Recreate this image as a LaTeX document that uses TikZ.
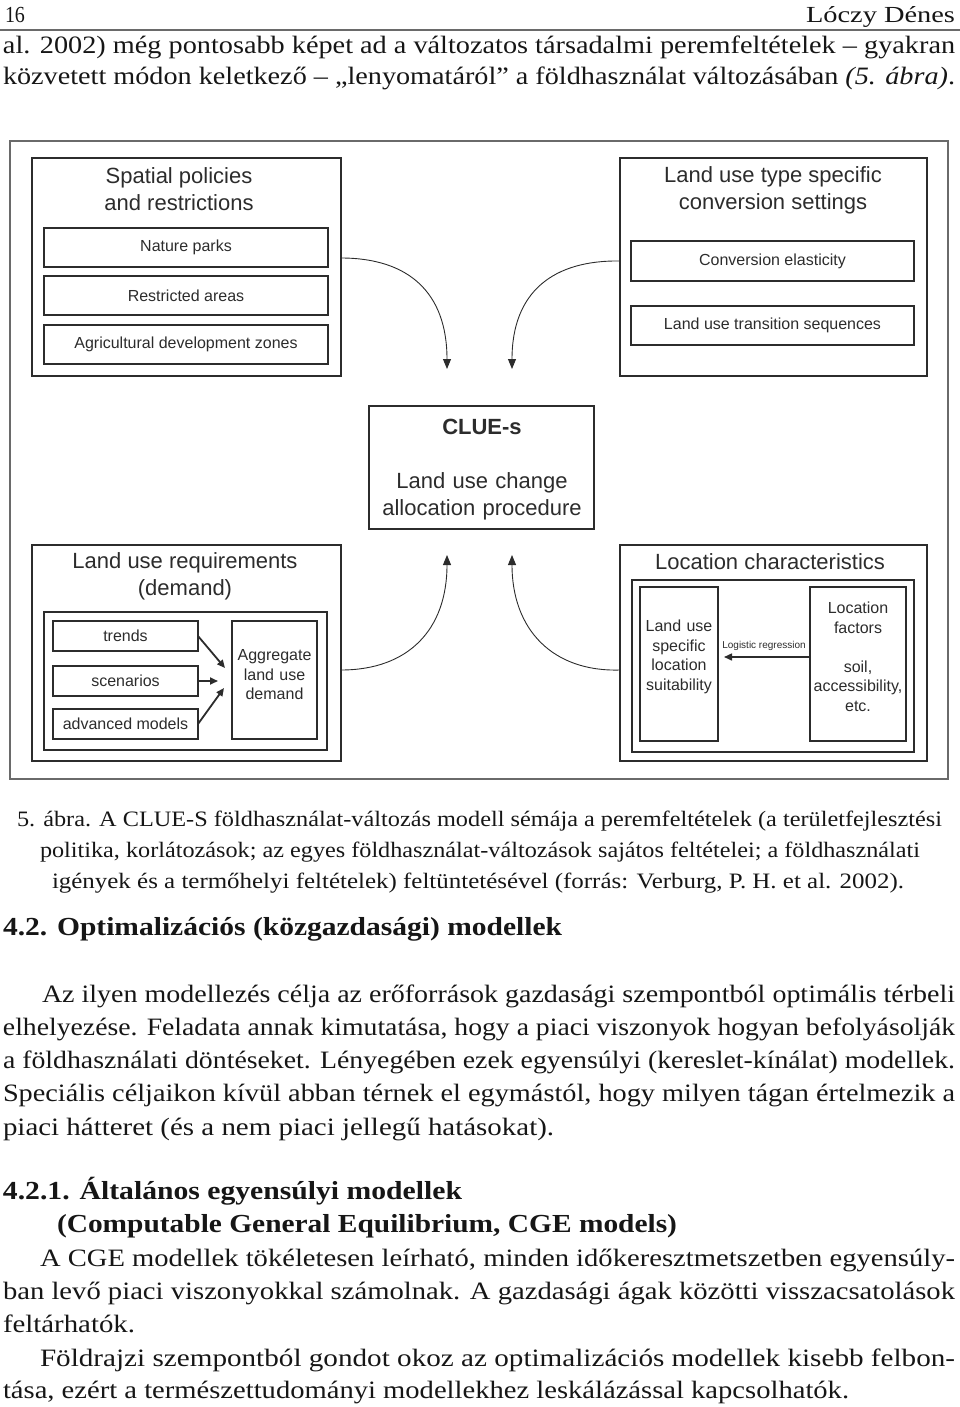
\documentclass[tikz,border=0pt]{standalone}
\usepackage{fontspec}
\setmainfont{Liberation Serif}
\newfontfamily\figfont{Liberation Sans}
\usepackage{graphicx}
\usetikzlibrary{arrows.meta}
\definecolor{ink}{HTML}{161616}
\definecolor{figink}{HTML}{2C2C2C}
\definecolor{framegray}{HTML}{6A6A6A}
\newcommand{\fitline}[2]{\resizebox{#1pt}{\height}{#2}}
\begin{document}
\begin{tikzpicture}[x=1pt,y=-1pt,
  txt/.style={anchor=base west,inner sep=0pt,outer sep=0pt,text=ink},
  bodyf/.style={font=\fontsize{25}{30}\selectfont},
  capf/.style={font=\fontsize{22}{26}\selectfont},
  headf/.style={font=\bfseries\fontsize{26}{30}\selectfont},
  bigbox/.style={draw=figink,line width=1.4pt,rectangle,inner sep=0pt,outer sep=0pt},
  itembox/.style={draw=figink,line width=1.3pt,rectangle,inner sep=0pt,outer sep=0pt,
    text=figink,font=\figfont\fontsize{16}{19}\selectfont},
  ttl/.style={text=figink,font=\figfont\fontsize{22}{27}\selectfont,align=center,inner sep=0pt},
  small/.style={text=figink,font=\figfont\fontsize{16}{19.5}\selectfont,align=center,inner sep=0pt},
  curv/.style={draw=figink,line width=0.9pt,-{Triangle[width=8pt,length=10pt]}},
  link/.style={draw=figink,line width=1.8pt,-{Triangle[width=7pt,length=8pt]}},
]
\useasboundingbox (0,0) rectangle (960,1407);

% ---------- page header ----------
\node[txt,font=\fontsize{23}{28}\selectfont] (pg) at (5,23) {\fitline{20}{16}};
\node[txt,font=\fontsize{23}{28}\selectfont] (au) at (806,23) {\fitline{149}{Lóczy Dénes}};
\coordinate (rl) at (0,30);
\coordinate (rr) at (960,30);
\draw[framegray,line width=1.6pt] (rl) -- (rr);

\node[txt,bodyf] (l1) at (3,54) {\fitline{952}{al. 2002) még pontosabb képet ad a változatos társadalmi peremfeltételek – gyakran}};
\node[txt,bodyf] (l2) at (3,85) {\fitline{952}{közvetett módon keletkező – „lenyomatáról” a földhasználat változásában \textit{(5. ábra)}.}};

% ---------- figure ----------
\node[draw=framegray,line width=2pt,rectangle,inner sep=0pt,minimum width=938pt,minimum height=638pt] (frm) at (479,460) {};

% Spatial policies
\node[bigbox,minimum width=309pt,minimum height=218pt] (sp) at (186.5,267) {};
\node[ttl] (spt) at (179,189) {Spatial policies\\and restrictions};
\node[itembox,minimum width=284pt,minimum height=39pt] (np) at (186,247.5) {Nature parks};
\node[itembox,minimum width=284pt,minimum height=39pt] (ra) at (186,295.5) {Restricted areas};
\node[itembox,minimum width=284pt,minimum height=39pt] (ad) at (186,344.5) {Agricultural development zones};

% Land use type specific
\node[bigbox,minimum width=307pt,minimum height=218pt] (lut) at (773.5,267) {};
\node[ttl] (lutt) at (773,190) {Land use type specific\\conversion settings};
\node[itembox,minimum width=283pt,minimum height=40pt] (ce) at (772.5,261) {Conversion elasticity};
\node[itembox,minimum width=283pt,minimum height=39pt] (lts) at (772.5,325.5) {Land use transition sequences};

% CLUE-s
\node[bigbox,line width=1.2pt,minimum width=225pt,minimum height=123pt] (clue) at (481.5,467.5) {};
\node[ttl,font=\figfont\bfseries\fontsize{22}{27}\selectfont] (cluet) at (482,427) {CLUE-s};
\node[ttl,text width=225pt] (clued) at (482,496) {Land use change\\allocation procedure};

% Land use requirements
\node[bigbox,minimum width=309pt,minimum height=216pt] (lur) at (186.5,653) {};
\node[ttl] (lurt) at (185,576) {Land use requirements\\(demand)};
\node[bigbox,minimum width=283pt,minimum height=138pt] (luri) at (185.5,681) {};
\node[itembox,minimum width=145pt,minimum height=30pt] (tr) at (125.5,636) {trends};
\node[itembox,minimum width=145pt,minimum height=30pt] (sc) at (125.5,681) {scenarios};
\node[itembox,minimum width=145pt,minimum height=30pt] (am) at (125.5,724) {advanced models};
\node[bigbox,line width=1.3pt,minimum width=85pt,minimum height=118pt] (agg) at (274.5,680) {};
\node[small,text width=85pt] (aggt) at (274.5,675) {Aggregate\\land use\\demand};
\coordinate (a1) at (225,668);
\coordinate (a2) at (218,681);
\coordinate (a3) at (224,688);
\draw[link] (tr.east) -- (a1);
\draw[link] (sc.east) -- (a2);
\draw[link] (am.east) -- (a3);

% Location characteristics
\node[bigbox,minimum width=307pt,minimum height=216pt] (loc) at (773.5,653) {};
\node[ttl] (loct) at (770,562) {Location characteristics};
\node[bigbox,minimum width=282pt,minimum height=172pt] (loci) at (773,666) {};
\node[bigbox,line width=1.3pt,minimum width=78pt,minimum height=154pt] (lus) at (679,664) {};
\node[small,text width=78pt] (lust) at (679,657) {Land use\\specific\\location\\suitability};
\node[bigbox,line width=1.3pt,minimum width=96pt,minimum height=154pt] (lf) at (858,664) {};
\node[small,text width=96pt] (lft) at (858,657) {Location\\factors\\[19.5pt]soil,\\accessibility,\\etc.};
\coordinate (lr) at (724,657);
\draw[draw=figink,line width=1.5pt,-{Triangle[width=7pt,length=8pt]}] ([yshift=7pt]lf.west) -- (lr);
\node[text=figink,font=\figfont\fontsize{10}{12}\selectfont,inner sep=0pt] (lrt) at (764,646) {Logistic regression};

% curved connectors to and from CLUE-s
\coordinate (t1) at (447,369);
\coordinate (t2) at (512,369);
\coordinate (t3) at (447,555);
\coordinate (t4) at (512,555);
\draw[curv] ([yshift=9pt]sp.east) .. controls (408,258) and (447,292) .. (t1);
\draw[curv] (ce.west -| lut.west) .. controls (553,260) and (512,292) .. (t2);
\draw[curv] ([yshift=-17pt]lur.east) .. controls (408,670) and (447,630) .. (t3);
\draw[curv] ([yshift=-17pt]loc.west) .. controls (553,672) and (512,630) .. (t4);

% ---------- caption ----------
\node[txt,capf] (c1) at (17,826) {\fitline{925}{5. ábra. A CLUE-S földhasználat-változás modell sémája a peremfeltételek (a területfejlesztési}};
\node[txt,capf] (c2) at (40,857) {\fitline{880}{politika, korlátozások; az egyes földhasználat-változások sajátos feltételei; a földhasználati}};
\node[txt,capf] (c3) at (52,888) {\fitline{852}{igények és a termőhelyi feltételek) feltüntetésével (forrás: Verburg, P. H. et al. 2002).}};

% ---------- section 4.2 ----------
\node[txt,headf] (h1) at (3,935) {\fitline{559}{4.2. Optimalizációs (közgazdasági) modellek}};
\node[txt,bodyf] (p1) at (42,1002) {\fitline{913}{Az ilyen modellezés célja az erőforrások gazdasági szempontból optimális térbeli}};
\node[txt,bodyf] (p2) at (3,1035) {\fitline{952}{elhelyezése. Feladata annak kimutatása, hogy a piaci viszonyok hogyan befolyásolják}};
\node[txt,bodyf] (p3) at (3,1068) {\fitline{952}{a földhasználati döntéseket. Lényegében ezek egyensúlyi (kereslet-kínálat) modellek.}};
\node[txt,bodyf] (p4) at (3,1101) {\fitline{952}{Speciális céljaikon kívül abban térnek el egymástól, hogy milyen tágan értelmezik a}};
\node[txt,bodyf] (p5) at (3,1135) {\fitline{551}{piaci hátteret (és a nem piaci jellegű hatásokat).}};

% ---------- section 4.2.1 ----------
\node[txt,headf] (h2) at (3,1199) {\fitline{459}{4.2.1. Általános egyensúlyi modellek}};
\node[txt,headf] (h3) at (57,1232) {\fitline{620}{(Computable General Equilibrium, CGE models)}};
\node[txt,bodyf] (q1) at (40,1266) {\fitline{915}{A CGE modellek tökéletesen leírható, minden időkeresztmetszetben egyensúly-}};
\node[txt,bodyf] (q2) at (3,1299) {\fitline{952}{ban levő piaci viszonyokkal számolnak. A gazdasági ágak közötti visszacsatolások}};
\node[txt,bodyf] (q3) at (3,1332) {\fitline{132}{feltárhatók.}};
\node[txt,bodyf] (q4) at (40,1366) {\fitline{915}{Földrajzi szempontból gondot okoz az optimalizációs modellek kisebb felbon-}};
\node[txt,bodyf] (q5) at (3,1398) {\fitline{846}{tása, ezért a természettudományi modellekhez leskálázással kapcsolhatók.}};
\end{tikzpicture}
\end{document}
